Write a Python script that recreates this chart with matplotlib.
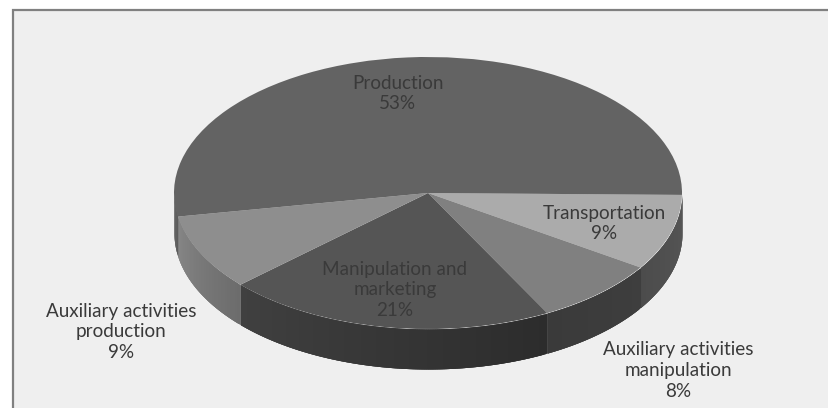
import numpy as np
import matplotlib
matplotlib.use('Agg')
import matplotlib.pyplot as plt
from matplotlib.patches import Rectangle
from matplotlib.colors import to_rgb

plt.rcParams['font.family'] = ['Lato', 'DejaVu Sans']

W, H = 829, 408

# pie data, clockwise from 3 o'clock
labels = ['Transportation', 'Auxiliary activities\nmanipulation',
          'Manipulation and\nmarketing', 'Auxiliary activities\nproduction',
          'Production']
shares = [9, 8, 21, 9, 53]

top_colors = ['#ababab', '#808080', '#555555', '#8e8e8e', '#636363']
# side wall shade at the start and end of each wedge (clockwise)
side_start = ['#565656', '#3e3e3e', '#2c2c2c', '#6c6c6c', '#5c5c5c']
side_end = ['#4c4c4c', '#3a3a3a', '#404040', '#868686', '#646464']

# label centre in pixels
label_px = [(604, 223.5), (678, 370.5), (395, 290), (121, 332), (398, 93.5)]

# pie geometry in pixels
cx, cy = 428, 193
rx, ry = 254, 136
depth = 40
start = 0.8  # first slice begins just below 3 o'clock

fig = plt.figure(figsize=(W / 100, H / 100), dpi=100, facecolor='white')
ax = fig.add_axes([0, 0, 1, 1])

wedges, _ = ax.pie(shares, startangle=-start, counterclock=False, radius=1,
                   colors=top_colors, wedgeprops={'linewidth': 0})
for w in wedges:
    w.set_zorder(3)

# stretch unit circle to the ellipse, axes stay in pie units
ax.set_aspect('auto')
ax.set_xlim(-cx / rx, (W - cx) / rx)
ax.set_ylim(-(H - cy) / ry, cy / ry)
ax.axis('on')
ax.set_xticks([])
ax.set_yticks([])
for s in ax.spines.values():
    s.set_visible(False)
ax.set_facecolor('white')


def px(x, y):
    return (x - cx) / rx, (cy - y) / ry


# chart area, border runs off the picture on the right and at the bottom
x0, y0 = px(13, 10)
x1, y1 = px(W + 10, H + 10)
ax.add_patch(Rectangle((x0, y1), x1 - x0, y0 - y1, facecolor='#efefef',
                       edgecolor='#808080', linewidth=1.6, zorder=0))

# walls of the front half, split in thin strips for the shading
d = depth / ry
edges = np.cumsum([0] + shares) / sum(shares) * 360 + start
edges[0] = 0
for i in range(len(shares)):
    a0, a1 = edges[i], min(edges[i + 1], 180)
    if a0 >= 180:
        continue
    steps = max(int(a1 - a0) * 2, 2)
    grid = np.linspace(a0, a1, steps + 1)
    c0 = np.array(to_rgb(side_start[i]))
    c1 = np.array(to_rgb(side_end[i]))
    for j in range(steps):
        # later strip covers the overlap, keeps seams out
        t = np.radians(np.linspace(grid[j], min(grid[j + 1] + 1.0, a1), 6))
        xs = np.cos(t)
        ys = -np.sin(t)
        col = c0 + (c1 - c0) * j / max(steps - 1, 1)
        ax.fill_between(xs, ys, ys - d, color=col, linewidth=0, zorder=2)

for name, share, (lx, ly) in zip(labels, shares, label_px):
    tx, ty = px(lx, ly)
    ax.text(tx, ty, f'{name}\n{share}%', ha='center', va='center', fontsize=13.6,
            color='#3a3a3a', linespacing=1.27, zorder=5)

fig.savefig('out.png', dpi=100)
